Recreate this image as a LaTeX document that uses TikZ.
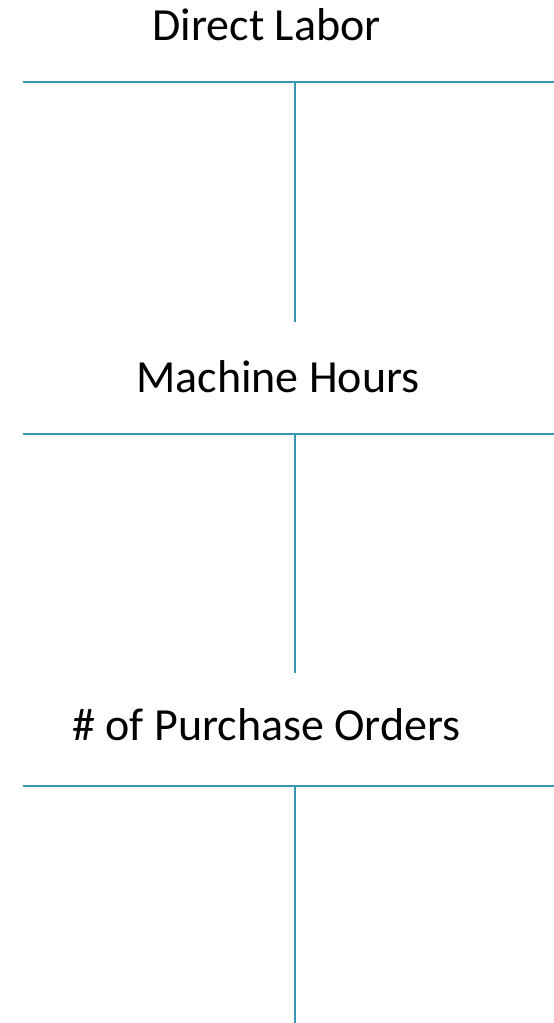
\documentclass[tikz,border=0pt]{standalone}
\usepackage{fontspec}
\setmainfont{Carlito}
\usepackage{tikz}
\usetikzlibrary{positioning}
\definecolor{tline}{HTML}{3A96B3}

\begin{document}
\begin{tikzpicture}[x=1pt, y=-1pt,
  title/.style={anchor=base, inner sep=0pt, font=\fontsize{46}{52}\selectfont},
  tline/.style={draw=tline, line width=2pt}
]
\useasboundingbox (0,0) rectangle (554,1023);
% direct labor
\node[title] (dl) at (266.5,40) {Direct Labor};
\coordinate (dlL) at (23,82);
\coordinate (dlR) at (554,82);
\coordinate (dlT) at (295,82);
\coordinate (dlB) at (295,322);
\draw[tline] (dlL) -- (dlR);
\draw[tline] (dlT) -- (dlB);
% machine hours
\node[title] (mh) at (278,392.5) {Machine Hours};
\coordinate (mhL) at (23,434);
\coordinate (mhR) at (554,434);
\coordinate (mhT) at (295,434);
\coordinate (mhB) at (295,673);
\draw[tline] (mhL) -- (mhR);
\draw[tline] (mhT) -- (mhB);
% purchase orders
\node[title] (po) at (266.5,740) {\# of Purchase Orders};
\coordinate (poL) at (23,786);
\coordinate (poR) at (554,786);
\coordinate (poT) at (295,786);
\coordinate (poB) at (295,1023);
\draw[tline] (poL) -- (poR);
\draw[tline] (poT) -- (poB);
\end{tikzpicture}
\end{document}
